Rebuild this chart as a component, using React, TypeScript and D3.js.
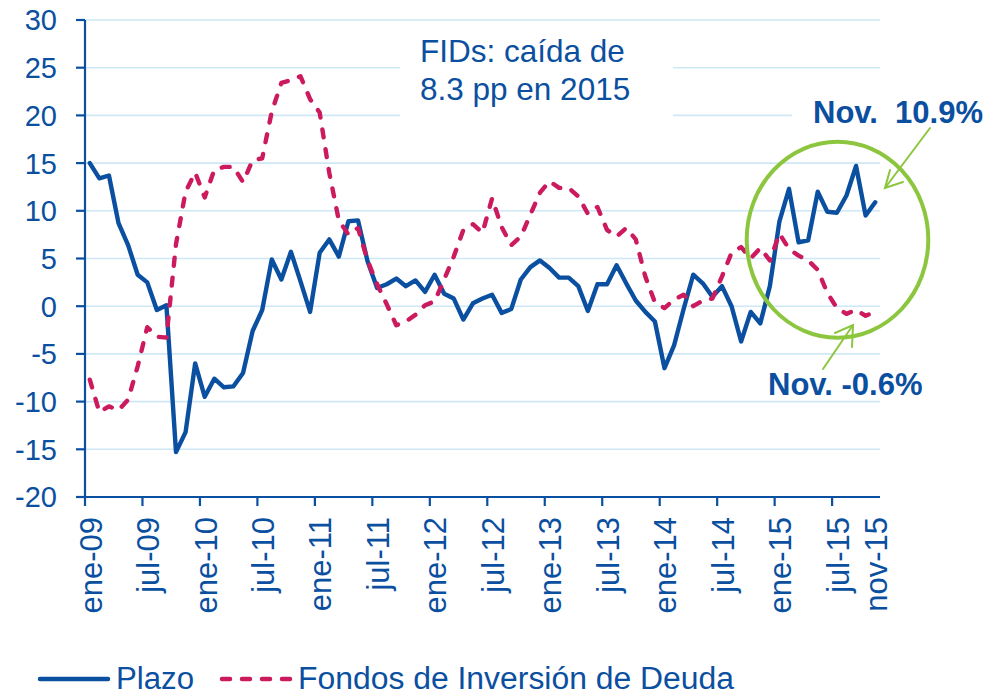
import React from "react";
import * as d3 from "d3";

const MONTHS = ["ene", "feb", "mar", "abr", "may", "jun", "jul", "ago", "sep", "oct", "nov", "dic"];
const YEARS = ["09", "10", "11", "12", "13", "14", "15"];
const N_MONTHS = 83; // ene-09 .. nov-15

const categories: string[] = [];
YEARS.forEach((yy) => MONTHS.forEach((m) => categories.push(`${m}-${yy}`)));
categories.length = N_MONTHS;

const tickLabels = [
  "ene-09", "jul-09", "ene-10", "jul-10", "ene-11", "jul-11", "ene-12", "jul-12",
  "ene-13", "jul-13", "ene-14", "jul-14", "ene-15", "jul-15", "nov-15",
];
const tickMarks = [
  "ene-09", "jul-09", "ene-10", "jul-10", "ene-11", "jul-11", "ene-12", "jul-12",
  "ene-13", "jul-13", "ene-14", "jul-14", "ene-15", "jul-15",
];
const yTicks = [-20, -15, -10, -5, 0, 5, 10, 15, 20, 25, 30];

const plazo = [
  15.0, 13.4, 13.7, 8.7, 6.4, 3.3, 2.5, -0.4, 0.1, -15.3,
  -13.2, -6.0, -9.5, -7.6, -8.5, -8.4, -7.0, -2.6, -0.4, 4.9,
  2.8, 5.7, 2.6, -0.6, 5.6, 7.0, 5.2, 8.9, 9.0, 4.7,
  1.9, 2.3, 2.9, 2.1, 2.7, 1.5, 3.3, 1.3, 0.8, -1.4,
  0.3, 0.8, 1.2, -0.7, -0.3, 2.8, 4.1, 4.8, 4.0, 3.0,
  3.0, 2.1, -0.5, 2.3, 2.3, 4.3, 2.4, 0.6, -0.6, -1.6,
  -6.5, -4.1, -0.3, 3.3, 2.4, 1.0, 2.1, 0.0, -3.7, -0.6,
  -1.8, 2.1, 8.9, 12.3, 6.7, 6.9, 12.0, 9.9, 9.8, 11.6,
  14.7, 9.5, 10.9,
];

const fondos = [
  -7.7, -11.1, -10.5, -10.9, -9.8, -6.3, -2.2, -3.2, -3.3, 6.5,
  12.0, 14.0, 11.4, 14.3, 14.6, 14.6, 13.0, 15.3, 15.5, 20.4,
  23.4, 23.7, 24.1, 21.7, 20.3, 14.0, 9.0, 7.5, 8.2, 4.8,
  2.3, 0.2, -2.0, -1.6, -0.9, 0.1, 0.5, 2.8, 5.2, 8.0,
  8.6, 7.7, 11.3, 8.3, 6.4, 7.3, 9.6, 11.9, 13.1, 12.4,
  12.4, 11.5, 9.7, 10.4, 8.0, 7.3, 8.2, 7.0, 3.1, 0.4,
  -0.2, 0.7, 1.2, 0.0, 0.6, 0.8, 3.1, 5.6, 6.2, 5.0,
  6.1, 4.8, 7.6, 6.0, 5.3, 4.8, 3.8, 1.4, -0.2, -0.8,
  -0.4, -1.0, -0.6,
];

const BLUE = "#0B4FA0";
const RED = "#CC1A5E";
const GRID = "#CFE8F6";
const GREEN = "#8CC63F";
const FONT = "'Liberation Sans', Arial, Helvetica, sans-serif";

export default function App() {
  const W = 990;
  const H = 697;
  const left = 85;
  const right = 880;
  const top = 20;
  const bottom = 497;

  const x = d3.scaleBand<string>().domain(categories).range([left, right]).padding(0);
  const y = d3.scaleLinear().domain([-20, 30]).range([bottom, top]);
  const cx = (c: string) => (x(c) as number) + x.bandwidth() / 2;

  const line = d3
    .line<number>()
    .x((_, i) => cx(categories[i]))
    .y((d) => y(d));

  return (
    <svg
      width={W}
      height={H}
      style={{ position: "absolute", left: 0, top: 0, background: "#fff" }}
      fontFamily={FONT}
    >
      <rect x={0} y={0} width={W} height={H} fill="#fff" />
      {/* gridlines */}
      {yTicks.map((t) => (
        <line key={"g" + t} x1={left} x2={right} y1={y(t)} y2={y(t)} stroke={GRID} strokeWidth={1.6} />
      ))}
      {/* white boxes of annotations covering gridlines */}
      <rect x={400} y={30} width={273} height={95} fill="#fff" />
      <rect x={792} y={88} width={198} height={42} fill="#fff" />

      {/* series */}
      <path d={line(plazo) || ""} fill="none" stroke={BLUE} strokeWidth={4.4} strokeLinejoin="round" strokeLinecap="round" />
      <path
        d={line(fondos) || ""}
        fill="none"
        stroke={RED}
        strokeWidth={4.4}
        strokeDasharray="8 12"
        strokeLinecap="round"
        strokeLinejoin="round"
      />

      {/* y axis */}
      <line x1={left} x2={left} y1={top} y2={bottom} stroke={BLUE} strokeWidth={2.2} />
      {yTicks.map((t) => (
        <g key={"y" + t}>
          <line x1={left - 9} x2={left} y1={y(t)} y2={y(t)} stroke={BLUE} strokeWidth={2.2} />
          <text x={57} y={y(t)} dy="0.36em" textAnchor="end" fontSize={29} fill={BLUE}>
            {t}
          </text>
        </g>
      ))}

      {/* x axis */}
      <line x1={left} x2={right} y1={bottom} y2={bottom} stroke={BLUE} strokeWidth={2.2} />
      {tickMarks.map((c) => (
        <line key={"xt" + c} x1={x(c) as number} x2={x(c) as number} y1={bottom} y2={bottom + 9} stroke={BLUE} strokeWidth={2.2} />
      ))}
      {tickLabels.map((c) => (
        <text
          key={"xl" + c}
          transform={`translate(${cx(c)},${517}) rotate(-90)`}
          dy="0.38em"
          textAnchor="end"
          fontSize={31}
          fill={BLUE}
        >
          {c}
        </text>
      ))}

      {/* annotations */}
      <text x={420} y={62} fontSize={31.5} fill={BLUE}>
        FIDs: caída de
      </text>
      <text x={420} y={100} fontSize={31.5} fill={BLUE}>
        8.3 pp en 2015
      </text>
      <text x={813} y={123} fontSize={31} fontWeight="bold" fill={BLUE} style={{ whiteSpace: "pre" }}>
        {"Nov.  10.9%"}
      </text>
      <text x={768} y={395} fontSize={31} fontWeight="bold" fill={BLUE}>
        Nov. -0.6%
      </text>

      <ellipse cx={837.5} cy={239.7} rx={90.8} ry={98} fill="none" stroke={GREEN} strokeWidth={4} />
      <g stroke={GREEN} strokeWidth={2} fill="none" strokeLinecap="round">
        <line x1={930} y1={128} x2={885} y2={188} />
        <polyline points="890,170 885,188 903,182" />
        <line x1={823} y1={369} x2={853} y2={325} />
        <polyline points="835,333 853,325 852,347" />
      </g>

      {/* legend */}
      <line x1={40} x2={108} y1={679} y2={679} stroke={BLUE} strokeWidth={4.5} strokeLinecap="round" />
      <text x={116} y={689} fontSize={31} fill={BLUE} textLength={78} lengthAdjust="spacingAndGlyphs">
        Plazo
      </text>
      <line x1={222} x2={290} y1={679} y2={679} stroke={RED} strokeWidth={4.5} strokeDasharray="8 12" strokeLinecap="round" />
      <text x={298} y={689} fontSize={31} fill={BLUE} textLength={436} lengthAdjust="spacingAndGlyphs">
        Fondos de Inversión de Deuda
      </text>
    </svg>
  );
}
